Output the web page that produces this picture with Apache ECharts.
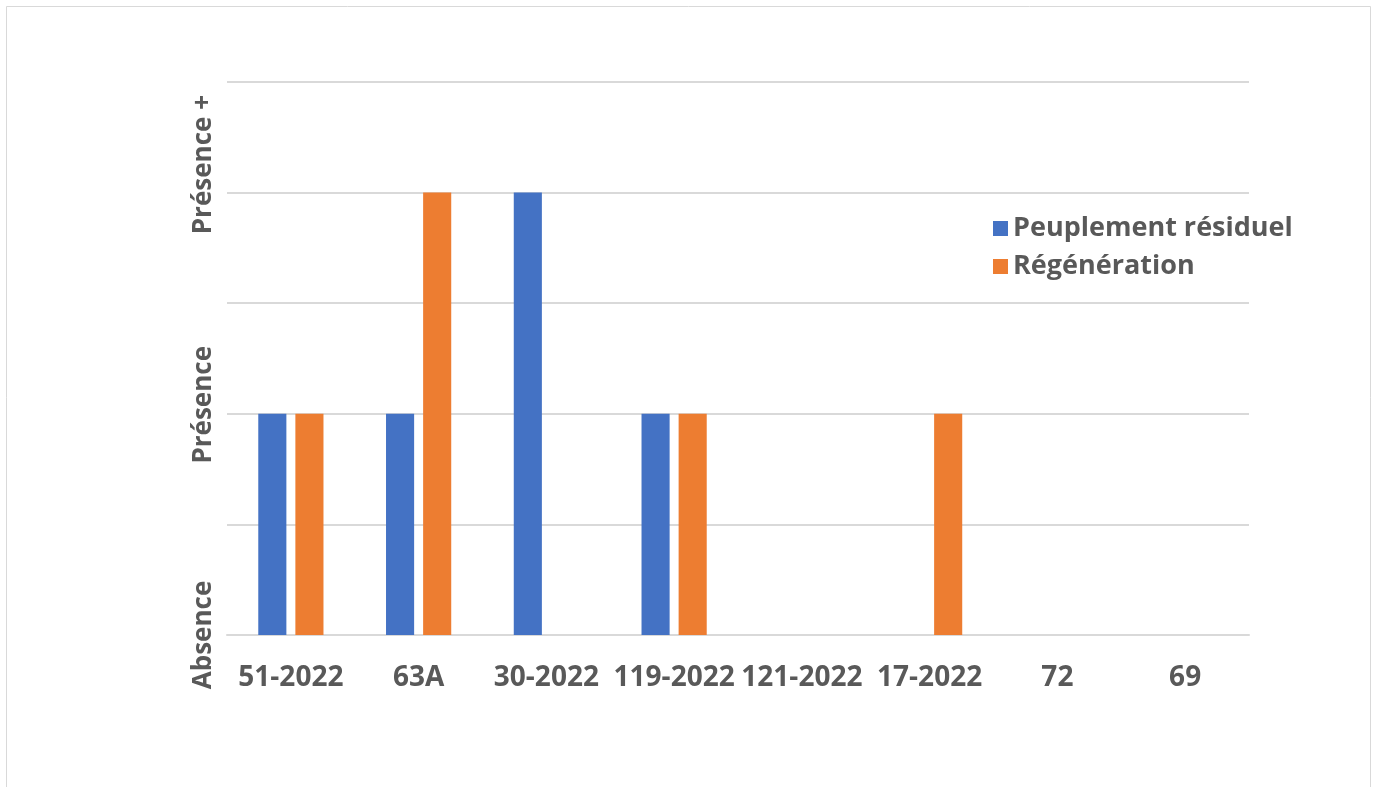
<!DOCTYPE html>
<html>
<head>
<meta charset="utf-8">
<title>Peuplement résiduel et régénération</title>
<script src="https://cdn.jsdelivr.net/npm/echarts@6/dist/echarts.min.js"></script>
<style>
  html, body { margin: 0; padding: 0; background: #ffffff; }
  #chart { width: 1376px; height: 787px; }
</style>
</head>
<body>
<div id="chart"></div>
<script>
// Sites inventoried
const categories = ['51-2022', '63A', '30-2022', '119-2022', '121-2022', '17-2022', '72', '69'];
// Presence scale: 0 = Absence, 1 = Présence, 2 = Présence +
const residuel = [1, 1, 2, 1, 0, 0, 0, 0];
const regeneration = [1, 2, 0, 1, 0, 1, 0, 0];
const levelLabels = ['Absence', 'Présence', 'Présence +'];

const FONT = "'Open Sans', 'Liberation Sans', sans-serif";
const TEXT = '#595959';

const chart = echarts.init(document.getElementById('chart'), null, { renderer: 'canvas' });

// rotated level labels sit slightly toward their end, more so higher up the scale
const levelStyles = {};
levelLabels.forEach(function (_, i) {
  levelStyles['l' + i] = {
    color: TEXT, fontFamily: FONT, fontWeight: 'bold', fontSize: 26,
    padding: [0, 0, 0, [0, 18, 56][i]]
  };
});

chart.setOption({
  animation: false,
  backgroundColor: '#ffffff',
  graphic: [{
    type: 'rect',
    shape: { x: 6.5, y: 6.5, width: 1364, height: 820 },
    style: { fill: 'none', stroke: '#d9d9d9', lineWidth: 1 },
    silent: true
  }],
  grid: { left: 227, right: 127, top: 82, bottom: 152, containLabel: false },
  legend: {
    orient: 'vertical',
    left: 988,
    top: 210,
    itemWidth: 15,
    itemHeight: 15,
    itemGap: 11,
    icon: 'rect',
    textStyle: { color: TEXT, fontFamily: FONT, fontWeight: 'bold', fontSize: 27 },
    data: ['Peuplement résiduel', 'Régénération']
  },
  xAxis: {
    type: 'category',
    data: categories,
    axisLine: { show: true, lineStyle: { color: '#d9d9d9', width: 2 } },
    axisTick: { show: false },
    axisLabel: {
      color: TEXT, fontFamily: FONT, fontWeight: 'bold', fontSize: 28,
      margin: 29, interval: 0
    }
  },
  yAxis: {
    type: 'value',
    min: 0,
    max: 2.5,
    interval: 0.5,
    axisLine: { show: false },
    axisTick: { show: false },
    splitLine: { lineStyle: { color: '#d9d9d9', width: 2 } },
    axisLabel: {
      color: TEXT, fontFamily: FONT, fontWeight: 'bold', fontSize: 26,
      rotate: 90, margin: 10,
      rich: levelStyles,
      formatter: function (v) {
        if (Number.isInteger(v) && levelLabels[v] !== undefined) {
          return '{l' + v + '|' + levelLabels[v] + '}';
        }
        return '';
      }
    }
  },
  series: [
    {
      name: 'Peuplement résiduel',
      type: 'bar',
      data: residuel,
      barWidth: '22%',
      barGap: '32%',
      itemStyle: { color: '#4472C4' }
    },
    {
      name: 'Régénération',
      type: 'bar',
      data: regeneration,
      barWidth: '22%',
      itemStyle: { color: '#ED7D31' }
    }
  ]
});
</script>
</body>
</html>
